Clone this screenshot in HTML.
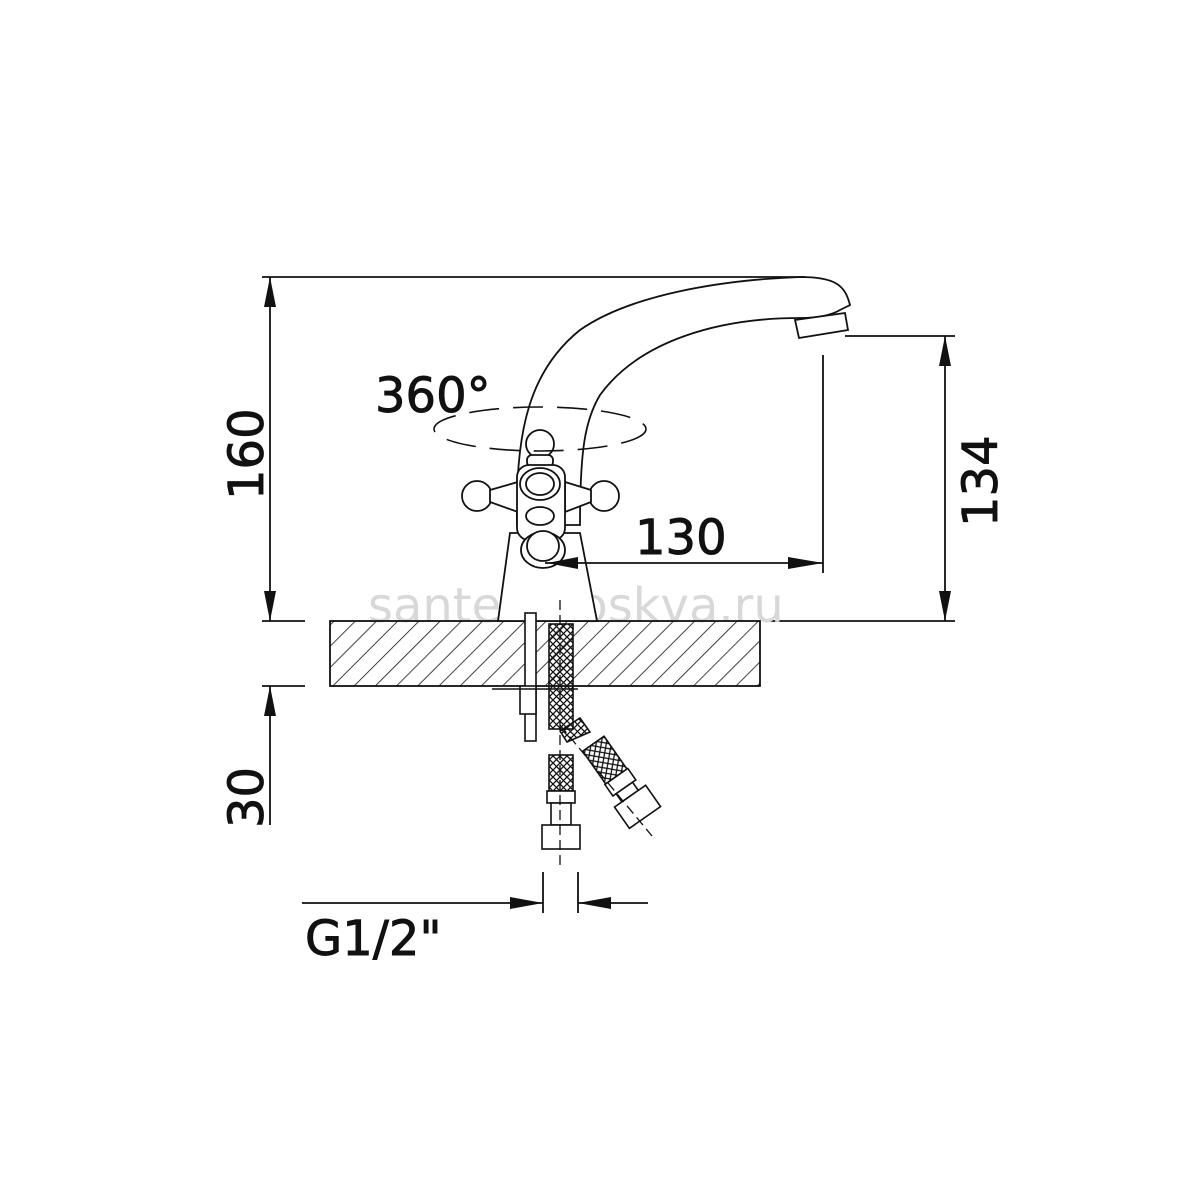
<!DOCTYPE html>
<html><head><meta charset="utf-8"><style>
html,body{margin:0;padding:0;background:#fff;width:1200px;height:1200px;overflow:hidden}
svg{display:block}
text{font-family:"DejaVu Sans","Liberation Sans",sans-serif;fill:#111}
.t{stroke:#111;stroke-width:0.9}
</style></head><body>
<svg width="1200" height="1200" viewBox="0 0 1200 1200" xmlns="http://www.w3.org/2000/svg">
<defs>
<pattern id="hatch" patternUnits="userSpaceOnUse" width="15" height="15" patternTransform="rotate(45)">
<line x1="0" y1="0" x2="0" y2="15" stroke="#111" stroke-width="1.6"/>
</pattern>
<pattern id="mesh" patternUnits="userSpaceOnUse" width="7" height="7">
<path d="M0,0 L7,7 M7,0 L0,7" stroke="#111" stroke-width="1.3"/>
</pattern>
</defs>
<g stroke="#111" stroke-width="1.8" fill="none">
<line x1="262" y1="277" x2="805" y2="277"/>
<line x1="270" y1="277" x2="270" y2="621"/>
<line x1="262" y1="621" x2="305" y2="621"/>
<line x1="262" y1="686" x2="305" y2="686"/>
<line x1="270" y1="686" x2="270" y2="825"/>
<line x1="845" y1="336" x2="955" y2="336"/>
<line x1="945" y1="336" x2="945" y2="621"/>
<line x1="765" y1="621" x2="955" y2="621"/>
<line x1="823" y1="355" x2="823" y2="573"/>
<line x1="302" y1="903" x2="543" y2="903"/>
<line x1="543" y1="872" x2="543" y2="913"/>
<line x1="578" y1="872" x2="578" y2="913"/>
<line x1="578" y1="903" x2="648" y2="903"/>
</g>
<text x="368" y="622" font-size="48" style="fill:#d8d8d8" font-family="Liberation Sans">santehmoskva.ru</text>
<rect x="330" y="621" width="430" height="65" fill="url(#hatch)" stroke="#111" stroke-width="1.8"/>
<g stroke="#111" stroke-width="1.8" fill="#fff">
<path d="M510,533 L498,621 L597,621 L580,533 Z"/>
<path d="M517,525 C515,430 530,370 580,330 C630,295 720,280 800,277 C835,277 845,285 850,305 L840,310 C830,316 815,318 800,318 C720,318 640,340 600,395 C585,420 580,450 580,525 Z"/>
<path d="M795,320 L845,313 L848,330 L799,338 Z"/>
<circle cx="540" cy="444" r="14"/>
<rect x="527" y="455" width="26" height="12" rx="5"/>
<circle cx="477" cy="496" r="15"/>
<circle cx="604" cy="496" r="15"/>
<path d="M490,490 L518,482 L518,512 L490,502 Z"/>
<path d="M591,490 L565,482 L565,512 L591,502 Z"/>
<rect x="517" y="465" width="48" height="75" rx="12"/>
<ellipse cx="540" cy="484" rx="20" ry="16"/>
<ellipse cx="540" cy="484" rx="14" ry="11"/>
<ellipse cx="540" cy="516" rx="14" ry="9"/>
<ellipse cx="543" cy="550" rx="22" ry="18"/>
<ellipse cx="543" cy="546" rx="16" ry="15"/>
</g>
<line x1="545" y1="563" x2="823" y2="563" stroke="#111" stroke-width="1.8"/>
<ellipse cx="540" cy="429" rx="106" ry="22" fill="none" stroke="#111" stroke-width="1.6" stroke-dasharray="30,14"/>
<g fill="#111">
<polygon points="270,277 264,307 276,307"/>
<polygon points="270,621 264,591 276,591"/>
<polygon points="270,686 264,716 276,716"/>
<polygon points="945,336 939,366 951,366"/>
<polygon points="945,621 939,591 951,591"/>
<polygon points="823,563 788,557 788,569"/>
<polygon points="547,563 578,557 578,569"/>
<polygon points="543,903 510,897 510,909"/>
<polygon points="578,903 611,897 611,909"/>
</g>
<text x="375" y="412" font-size="48" class="t">360°</text>
<g stroke="#111" stroke-width="1.6" fill="#fff">
<rect x="525" y="613" width="11" height="128"/>
<rect x="520" y="686" width="16" height="28"/>
<line x1="492" y1="689" x2="578" y2="689"/>
<rect x="549" y="624" width="24" height="105" fill="url(#mesh)"/>
<path d="M560,731 L580,718 L590,732 L567,742 Z" fill="url(#mesh)"/>
<rect x="549" y="755" width="24" height="36" fill="url(#mesh)"/>
<rect x="547" y="791" width="28" height="12"/>
<rect x="551" y="803" width="20" height="22"/>
<rect x="542" y="825" width="38" height="24"/>
<g transform="rotate(-35 620 780)">
<rect x="606" y="735" width="26" height="40" fill="url(#mesh)"/>
<rect x="605" y="775" width="28" height="14"/>
<rect x="609" y="789" width="20" height="10"/>
<rect x="600" y="799" width="38" height="26"/>
</g>
</g>
<line x1="560" y1="600" x2="560" y2="865" stroke="#111" stroke-width="1.3" stroke-dasharray="10,5"/>
<line x1="560" y1="725" x2="652" y2="836" stroke="#111" stroke-width="1.3" stroke-dasharray="10,5"/>
<text font-size="48" class="t" transform="translate(263,500) rotate(-90)">160</text>
<text font-size="48" class="t" transform="translate(997,527) rotate(-90)">134</text>
<text font-size="48" class="t" transform="translate(263,828) rotate(-90)">30</text>
<text x="635" y="554" font-size="48" class="t">130</text>
<text x="305" y="955" font-size="48" class="t">G1/2"</text>
</svg>
</body></html>
